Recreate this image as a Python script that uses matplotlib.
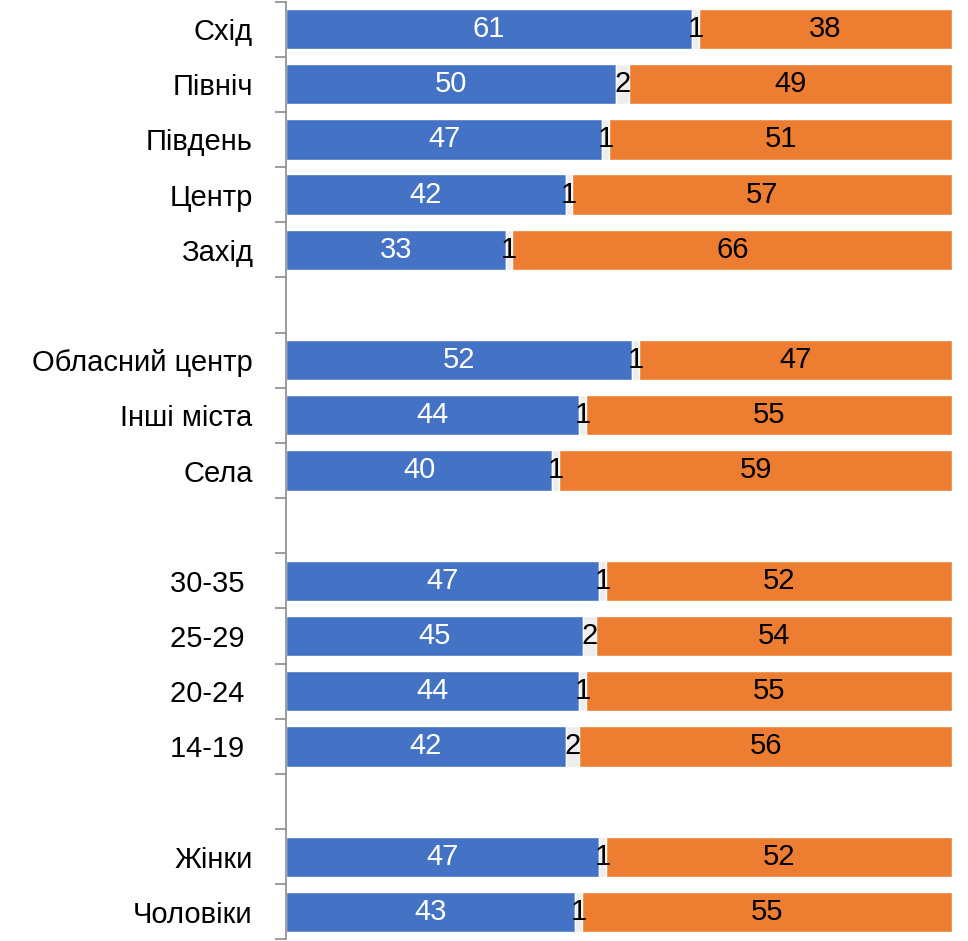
import numpy as np
import matplotlib
matplotlib.use("Agg")
import matplotlib.pyplot as plt

plt.rcParams['font.family'] = ['Liberation Sans', 'DejaVu Sans']

# None marks an empty gap row
categories = ['Схід', 'Північ', 'Південь', 'Центр', 'Захід', None,
              'Обласний центр', 'Інші міста', 'Села', None,
              '30-35 ', '25-29 ', '20-24 ', '14-19 ', None,
              'Жінки', 'Чоловіки']
blue = [61, 50, 47, 42, 33, None, 52, 44, 40, None, 47, 45, 44, 42, None, 47, 43]
gray = [1, 2, 1, 1, 1, None, 1, 1, 1, None, 1, 2, 1, 2, None, 1, 1]
orange = [38, 49, 51, 57, 66, None, 47, 55, 59, None, 52, 54, 55, 56, None, 52, 55]

c_blue = '#4472C4'
c_gray = '#EDEDED'
c_orange = '#ED7D31'

fig = plt.figure(figsize=(9.68, 9.41), dpi=100)
ax = fig.add_axes([0.2955, 0.0016, 0.688, 0.9968])

n = len(categories)
for i, cat in enumerate(categories):
    if cat is None:
        continue
    tot = blue[i] + gray[i] + orange[i]
    b = blue[i] / tot * 100
    g = gray[i] / tot * 100
    o = orange[i] / tot * 100
    ax.barh(i, b, height=0.73, color=c_blue, edgecolor='white', linewidth=1)
    ax.barh(i, g, left=b, height=0.73, color=c_gray, edgecolor='white', linewidth=1)
    ax.barh(i, o, left=b + g, height=0.73, color=c_orange, edgecolor='white', linewidth=1)
    ax.text(b / 2, i, str(blue[i]), ha='center', va='center', color='white', fontsize=21)
    ax.text(b + g / 2, i, str(gray[i]), ha='center', va='center', color='black', fontsize=21)
    ax.text(b + g + o / 2, i, str(orange[i]), ha='center', va='center', color='black', fontsize=21)

ax.set_xlim(0, 100)
ax.set_ylim(n - 0.5, -0.5)
ax.set_yticks(np.arange(n))
ax.set_yticklabels([c if c else '' for c in categories], fontsize=21)
ax.set_yticks(np.arange(n + 1) - 0.5, minor=True)
ax.tick_params(axis='y', which='major', length=0, pad=24)
ax.tick_params(axis='y', which='minor', length=8, width=1.2, color='#8c8c8c', direction='out')
ax.set_xticks([])
for s in ['top', 'right', 'bottom']:
    ax.spines[s].set_visible(False)
ax.spines['left'].set_color('#8c8c8c')
ax.spines['left'].set_linewidth(1.2)

fig.savefig('out.png', dpi=100)
